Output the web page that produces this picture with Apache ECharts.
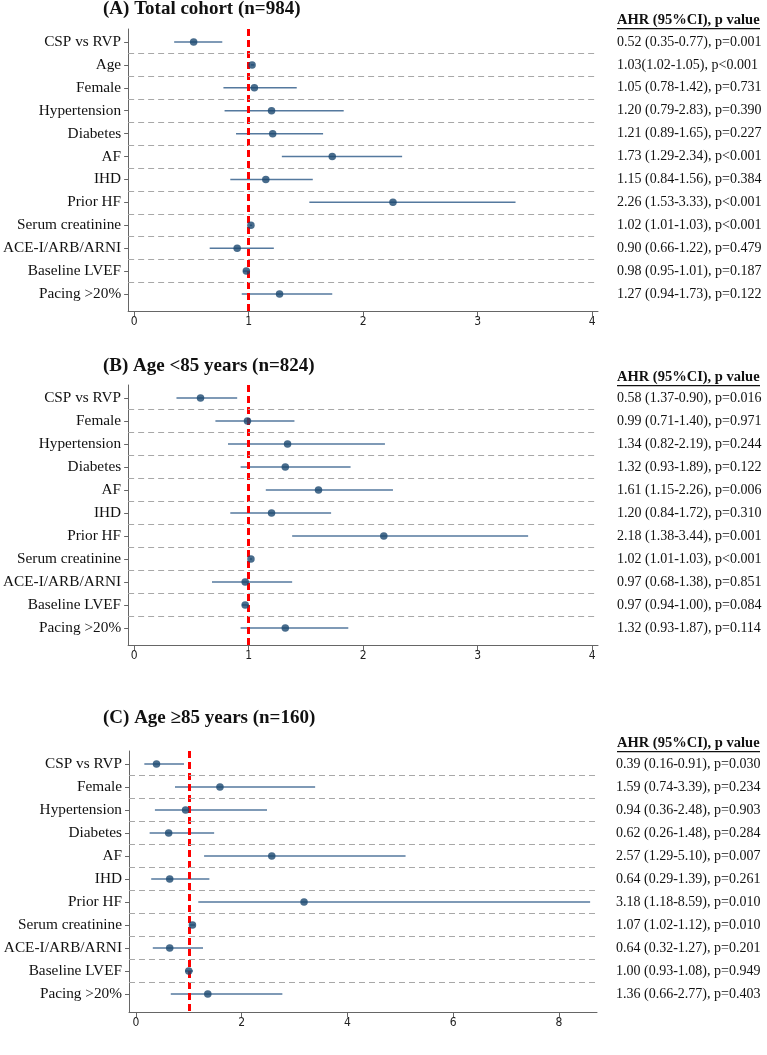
<!DOCTYPE html>
<html><head><meta charset="utf-8">
<script src="https://cdn.jsdelivr.net/npm/echarts@6/dist/echarts.min.js"></script>
<style>html,body{margin:0;padding:0;background:#fff}#c{width:767px;height:1055px}</style>
</head><body><div id="c"></div>
<script>
const labelsA = ['CSP vs RVP','Age','Female','Hypertension','Diabetes','AF','IHD','Prior HF','Serum creatinine','ACE-I/ARB/ARNI','Baseline LVEF','Pacing >20%'];
const labelsBC = ['CSP vs RVP','Female','Hypertension','Diabetes','AF','IHD','Prior HF','Serum creatinine','ACE-I/ARB/ARNI','Baseline LVEF','Pacing >20%'];

const hrA = [0.52,1.03,1.05,1.20,1.21,1.73,1.15,2.26,1.02,0.90,0.98,1.27];
const loA = [0.35,1.02,0.78,0.79,0.89,1.29,0.84,1.53,1.01,0.66,0.95,0.94];
const hiA = [0.77,1.05,1.42,1.83,1.65,2.34,1.56,3.33,1.03,1.22,1.01,1.73];
const textA = ['0.52 (0.35-0.77), p=0.001','1.03(1.02-1.05), p<0.001','1.05 (0.78-1.42), p=0.731','1.20 (0.79-2.83), p=0.390','1.21 (0.89-1.65), p=0.227','1.73 (1.29-2.34), p<0.001','1.15 (0.84-1.56), p=0.384','2.26 (1.53-3.33), p<0.001','1.02 (1.01-1.03), p<0.001','0.90 (0.66-1.22), p=0.479','0.98 (0.95-1.01), p=0.187','1.27 (0.94-1.73), p=0.122'];

const hrB = [0.58,0.99,1.34,1.32,1.61,1.20,2.18,1.02,0.97,0.97,1.32];
const loB = [0.37,0.71,0.82,0.93,1.15,0.84,1.38,1.01,0.68,0.94,0.93];
const hiB = [0.90,1.40,2.19,1.89,2.26,1.72,3.44,1.03,1.38,1.00,1.87];
const textB = ['0.58 (1.37-0.90), p=0.016','0.99 (0.71-1.40), p=0.971','1.34 (0.82-2.19), p=0.244','1.32 (0.93-1.89), p=0.122','1.61 (1.15-2.26), p=0.006','1.20 (0.84-1.72), p=0.310','2.18 (1.38-3.44), p=0.001','1.02 (1.01-1.03), p<0.001','0.97 (0.68-1.38), p=0.851','0.97 (0.94-1.00), p=0.084','1.32 (0.93-1.87), p=0.114'];

const hrC = [0.39,1.59,0.94,0.62,2.57,0.64,3.18,1.07,0.64,1.00,1.36];
const loC = [0.16,0.74,0.36,0.26,1.29,0.29,1.18,1.02,0.32,0.93,0.66];
const hiC = [0.91,3.39,2.48,1.48,5.10,1.39,8.59,1.12,1.27,1.08,2.77];
const textC = ['0.39 (0.16-0.91), p=0.030','1.59 (0.74-3.39), p=0.234','0.94 (0.36-2.48), p=0.903','0.62 (0.26-1.48), p=0.284','2.57 (1.29-5.10), p=0.007','0.64 (0.29-1.39), p=0.261','3.18 (1.18-8.59), p=0.010','1.07 (1.02-1.12), p=0.010','0.64 (0.32-1.27), p=0.201','1.00 (0.93-1.08), p=0.949','1.36 (0.66-2.77), p=0.403'];

const titles = ['(A) Total cohort (n=984)','(B) Age <85 years (n=824)','(C) Age \u226585 years (n=160)'];
const header = 'AHR (95%CI), p value';
const xTicksAB = [0,1,2,3,4];
const xTicksC = [0,2,4,6,8];

const SERIF = "'Liberation Serif','Times New Roman',serif";
const NARROW = "'Liberation Sans Narrow','DejaVu Sans Condensed','Liberation Sans',sans-serif";

const panels = [
  {labels: labelsA, hr: hrA, lo: loA, hi: hiA, text: textA, xt: xTicksAB, xmin: -0.052, xmax: 4.05,
   left: 128, width: 470, top: 29, bottom: 311, ypadTop: 13, ypadBot: 17, titleTop: 0, headTop: 13},
  {labels: labelsBC, hr: hrB, lo: loB, hi: hiB, text: textB, xt: xTicksAB, xmin: -0.052, xmax: 4.05,
   left: 128, width: 470, top: 385, bottom: 645, ypadTop: 13, ypadBot: 17, titleTop: 357, headTop: 370},
  {labels: labelsBC, hr: hrC, lo: loC, hi: hiC, text: textC, xt: xTicksC, xmin: -0.13, xmax: 8.72,
   left: 129, width: 468, top: 751, bottom: 1012, ypadTop: 13, ypadBot: 18, titleTop: 709, headTop: 736}
];

const grid = [], xAxis = [], yAxis = [], series = [], title = [], graphic = [];
panels.forEach((p, k) => {
  const n = p.labels.length;
  const h = p.bottom - p.top;
  const step = (h - p.ypadTop - p.ypadBot) / (n - 1);
  const ymin = -p.ypadTop / step, ymax = (n - 1) + p.ypadBot / step;
  const idx = p.labels.map((_, i) => i);
  grid.push({left: p.left, top: p.top, width: p.width, height: h, containLabel: false});
  xAxis.push({type: 'value', gridIndex: k, min: p.xmin, max: p.xmax,
    axisLine: {show: true, onZero: false, lineStyle: {color: '#666', width: 1}},
    axisTick: {show: true, length: 5, customValues: p.xt, lineStyle: {color: '#666'}},
    axisLabel: {customValues: p.xt, color: '#222', fontFamily: NARROW, fontSize: 12, margin: 5},
    splitLine: {show: false}});
  yAxis.push({type: 'value', gridIndex: k, inverse: true, min: ymin, max: ymax,
    axisLine: {show: true, onZero: false, lineStyle: {color: '#666', width: 1}},
    axisTick: {show: true, length: 4, customValues: idx, lineStyle: {color: '#666'}},
    axisLabel: {customValues: idx, formatter: v => p.labels[Math.round(v)], color: '#111', fontFamily: SERIF, fontSize: 15.3, margin: 7},
    splitLine: {show: false}});
  yAxis.push({type: 'value', gridIndex: k, inverse: true, min: ymin, max: ymax, position: 'right',
    axisLine: {show: false, onZero: false}, axisTick: {show: false},
    axisLabel: {customValues: idx, formatter: v => p.text[Math.round(v)], color: '#111', fontFamily: SERIF, fontSize: 14, margin: 19, align: 'left'},
    splitLine: {show: false}});
  const sepData = idx.slice(1).map(i => ({yAxis: i - 0.5}));
  series.push({type: 'custom', xAxisIndex: k, yAxisIndex: 2 * k, z: 3,
    data: idx.map(i => [p.lo[i], p.hi[i], i]),
    encode: {x: [0, 1], y: 2},
    renderItem: (params, api) => {
      const a = api.coord([api.value(0), api.value(2)]);
      const b = api.coord([api.value(1), api.value(2)]);
      return {type: 'line', shape: {x1: a[0], y1: a[1], x2: b[0], y2: b[1]}, style: {stroke: '#55799e', lineWidth: 1.5}};
    },
    markLine: {silent: true, symbol: 'none', label: {show: false}, animation: false,
      lineStyle: {color: '#a8a8a8', type: [6, 4], width: 1}, data: sepData}
  });
  series.push({type: 'scatter', xAxisIndex: k, yAxisIndex: 2 * k, z: 5,
    symbolSize: 7.5, itemStyle: {color: '#1a476f'},
    data: idx.map(i => [p.hr[i], i]),
    markLine: {silent: true, symbol: 'none', label: {show: false}, animation: false, z: 4,
      lineStyle: {color: '#ff0000', type: [7, 4], width: 3}, data: [{xAxis: 1}]}
  });
  title.push({text: titles[k], left: 103, top: p.titleTop, padding: 0,
    textStyle: {fontFamily: SERIF, fontSize: 19, fontWeight: 'bold', color: '#111'}});
  graphic.push({type: 'text', left: 617, top: p.headTop,
    style: {text: header, fontFamily: SERIF, fontSize: 14.5, fontWeight: 'bold', fill: '#111'}});
  graphic.push({type: 'rect', left: 617, top: p.headTop + 15, shape: {width: 143, height: 1.2}, style: {fill: '#111'}});
});

const chart = echarts.init(document.getElementById('c'), null, {renderer: 'canvas'});
chart.setOption({animation: false, backgroundColor: '#fff', title, grid, xAxis, yAxis, series, graphic});
</script></body></html>
